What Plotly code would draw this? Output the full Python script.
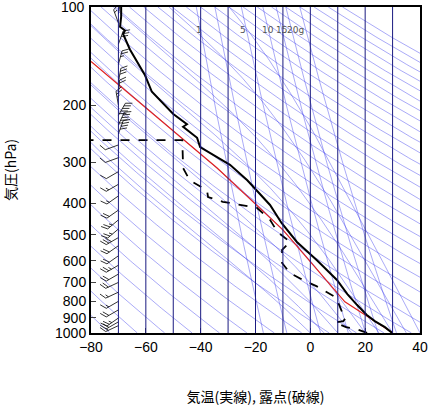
import numpy as np
import plotly.graph_objects as go

# ---- data ----
temp_p = [1000, 960, 920, 880, 820, 760, 688, 600, 526, 460, 405, 370, 340, 305, 269, 252, 233, 229, 213, 182, 162, 135, 121, 118, 115, 107, 100]
temp_t = [29.8, 27.2, 23.5, 20.5, 17.0, 13.5, 9.7, 2.5, -4.9, -10.5, -14.7, -19.0, -23.0, -29.3, -40.2, -41.3, -46.4, -45.0, -50.0, -57.8, -60.3, -65.8, -68.3, -67.6, -69.4, -69.0, -69.0]
dew_p = [1000, 975, 960, 930, 920, 900, 860, 820, 775, 720, 688, 655, 610, 556, 526, 490, 450, 413, 396, 383, 365, 340, 320, 312, 256, 256]
dew_t = [20.7, 17.0, 13.0, 9.0, 12.0, 13.0, 11.5, 10.5, 9.0, 2.4, -2.7, -7.4, -10.3, -10.3, -7.4, -12.0, -14.7, -19.5, -31.9, -37.3, -37.7, -44.0, -45.7, -46.4, -46.7, -80.0]
parcel_p = [1000, 803, 483, 312, 147]
parcel_t = [30.1, 12.6, -10.0, -34.0, -80.0]
wind_p = [100, 105, 112, 130, 150, 170, 185, 200, 215, 230, 245, 265, 290, 320, 350, 380, 420, 450, 480, 510, 540, 580, 620, 660, 700, 750, 800, 850, 900, 925, 950, 1000]
wind_spd = [15, 20, 15, 30, 25, 30, 20, 25, 50, 45, 40, 10, 10, 10, 15, 15, 20, 25, 25, 30, 20, 20, 25, 20, 20, 15, 15, 20, 25, 20, 15, 10]
wind_dir = [350, 10, 340, 20, 15, 10, 5, 350, 30, 25, 20, 250, 250, 240, 240, 235, 235, 230, 230, 240, 235, 235, 240, 240, 245, 245, 240, 240, 235, 240, 245, 240]
mix_ratios = [1, 2, 5, 10, 15, 20, 30]
mix_labels = {1: ("1", -40.5), 5: ("5", -24.5), 10: ("10", -15.5), 15: ("15", -10.5), 20: ("20g", -5.5)}
p_ticks = [100, 200, 300, 400, 500, 600, 700, 800, 900, 1000]
t_ticks = [-80, -60, -40, -20, 0, 20, 40]

X0, X1, Y0, Y1 = 91, 420, 7, 333
def t2px(t): return X0 + (t + 80) * (X1 - X0) / 120
def px2t(x): return (x - X0) * 120 / (X1 - X0) - 80
def p2py(p): return Y0 + (Y1 - Y0) * np.log10(p / 100)
def py2p(y): return 100 * 10 ** ((y - Y0) / (Y1 - Y0))

fig = go.Figure()
pp = np.logspace(2, 3, 200)
blue = "rgba(50,50,235,0.6)"
xs, ys = [], []
for th in range(200, 560, 10):
    T = th * (pp / 1000) ** 0.2857 - 273.15
    xs += list(T) + [None]; ys += list(pp) + [None]
fig.add_trace(go.Scatter(x=xs, y=ys, mode="lines", line=dict(color=blue, width=0.7), hoverinfo="skip"))
def es(T): return 6.112 * np.exp(17.67 * (T - 273.15) / (T - 29.65))
xs, ys = [], []
for t0 in range(0, 45, 5):
    T = t0 + 273.15; p = 1000.0; P = [p]; TT = [T]
    while p > 100:
        rs = 0.622 * es(T) / (p - es(T))
        dTdp = (287 * T + 2.5e6 * rs) / (p * (1004 + 2.5e6 ** 2 * rs * 0.622 / (287 * T * T)))
        dp = -2.0; T += dTdp * dp; p += dp
        P.append(p); TT.append(T)
    xs += [v - 273.15 for v in TT] + [None]; ys += P + [None]
fig.add_trace(go.Scatter(x=xs, y=ys, mode="lines", line=dict(color=blue, width=0.7), hoverinfo="skip"))
xs, ys = [], []
for w in mix_ratios:
    e = w * pp / (622 + w)
    Td = 243.5 * np.log(e / 6.112) / (17.67 - np.log(e / 6.112))
    xs += list(Td) + [None]; ys += list(pp) + [None]
    if w in mix_labels:
        txt, xl = mix_labels[w]
        fig.add_annotation(x=xl, y=np.log10(118), text=txt, showarrow=False,
                           xanchor="center", font=dict(size=9, color="#555555", family="DejaVu Sans"))
fig.add_trace(go.Scatter(x=xs, y=ys, mode="lines", line=dict(color=blue, width=0.7), hoverinfo="skip"))

fig.add_trace(go.Scatter(x=parcel_t, y=parcel_p, mode="lines", line=dict(color="#e02020", width=1.2)))
fig.add_trace(go.Scatter(x=dew_t, y=dew_p, mode="lines", line=dict(color="black", width=1.8, dash="dash")))
fig.add_trace(go.Scatter(x=temp_t, y=temp_p, mode="lines", line=dict(color="black", width=2)))

bx, by = [], []
sx = t2px(-70)
for p, s, d in zip(wind_p, wind_spd, wind_dir):
    sy = p2py(p)
    ux, uy = np.sin(np.radians(d)), -np.cos(np.radians(d))
    fx, fy = np.sin(np.radians(d + 60)), -np.cos(np.radians(d + 60))
    L = 14
    tx, ty = sx + ux * L, sy + uy * L
    bx += [px2t(sx), px2t(tx), None]; by += [py2p(sy), py2p(ty), None]
    n10, n5 = s // 10, (s % 10) // 5
    k = 0
    for i in range(n10):
        ax, ay = tx - ux * 3 * k, ty - uy * 3 * k
        bx += [px2t(ax), px2t(ax + fx * 7), None]; by += [py2p(ay), py2p(ay + fy * 7), None]; k += 1
    if n5:
        ax, ay = tx - ux * 3 * k, ty - uy * 3 * k
        bx += [px2t(ax), px2t(ax + fx * 3.5), None]; by += [py2p(ay), py2p(ay + fy * 3.5), None]
fig.add_trace(go.Scatter(x=bx, y=by, mode="lines", line=dict(color="black", width=0.8), hoverinfo="skip"))

for t in range(-70, 40, 10):
    fig.add_shape(type="line", x0=t, x1=t, y0=0, y1=1, yref="paper", line=dict(color="#1a1a80", width=1), layer="above")
for p in range(200, 1000, 100):
    c = "#aaaaaa" if p in (400, 900) else "#555555"
    fig.add_shape(type="line", x0=0, x1=1, xref="paper", y0=np.log10(p), y1=np.log10(p), line=dict(color=c, width=1.5 if c == "#aaaaaa" else 1), layer="above")

fig.add_annotation(x=0, xref="paper", y=np.log10(p_ticks[0]), yref="y", text=str(p_ticks[0]), showarrow=False,
                   xanchor="right", xshift=-4, font=dict(family="Liberation Sans", size=14, color="black"))

fig.update_layout(
    width=431, height=408, margin=dict(l=91, r=11, t=7, b=75, autoexpand=False),
    plot_bgcolor="white", paper_bgcolor="white", showlegend=False,
    font=dict(family="Liberation Sans", size=14, color="black"),
    xaxis=dict(range=[-80, 40], tickvals=t_ticks, showgrid=False, zeroline=False,
               showline=True, linecolor="black", linewidth=2, mirror=True, ticks="inside", ticklen=5,
               automargin=False, title=dict(text="気温(実線), 露点(破線)", standoff=38,
                                            font=dict(family="Noto Sans CJK JP", size=14, color="black"))),
    yaxis=dict(type="log", range=[3.0003, 2.0], tickvals=p_ticks[1:],
               ticktext=[str(v) for v in p_ticks[1:]],
               showgrid=False, zeroline=False, showline=True, linecolor="black", linewidth=2, mirror=True,
               ticks="inside", ticklen=5, automargin=False,
               title=dict(text="気圧(hPa)", standoff=40, font=dict(family="Noto Sans CJK JP", size=14, color="black"))),
)
fig.write_html("out.html", config={"displayModeBar": False})
with open("out.html", encoding="utf-8") as f:
    html = f.read()
html = html.replace("<body>", '<body style="margin:0">', 1)
with open("out.html", "w", encoding="utf-8") as f:
    f.write(html)
